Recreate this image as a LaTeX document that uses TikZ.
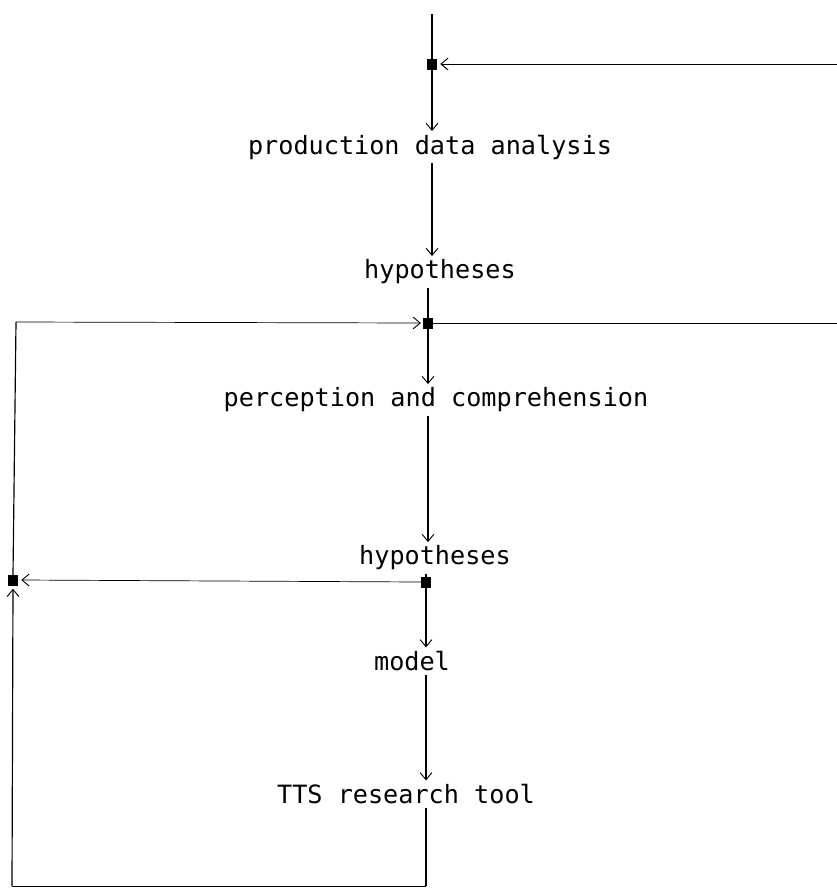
\documentclass[tikz,border=0pt]{standalone}
\usepackage{fontspec}
\setmonofont{DejaVu Sans Mono}
\usetikzlibrary{arrows.meta}
\tikzset{
  label/.style={font=\ttfamily\fontsize{21.5}{24}\selectfont, inner sep=3pt, anchor=center},
  junction/.style={draw=black, fill=black, rectangle, minimum width=0.27cm, minimum height=0.3cm, inner sep=0pt},
  main/.style={line width=1pt},
  thin/.style={line width=0.6pt},
  tip/.style={-{Straight Barb[length=6pt,width=10pt,line width=0.8pt]}},
}
\begin{document}
\begin{tikzpicture}[x=0.03cm, y=-0.03cm]
\useasboundingbox (0,0) rectangle (837,888);

% text nodes
\node[label] (pda) at (430,147) {production data analysis};
\node[label] (hy1) at (440,272) {hypotheses};
\node[label] (pc)  at (436,400) {perception and comprehension};
\node[label] (hy2) at (435,558) {hypotheses};
\node[label] (mod) at (412,661) {model};
\node[label] (tts) at (406,794) {TTS research tool};

% junctions
\node[junction] (j1) at (432,64) {};
\node[junction] (j2) at (428,323) {};
\node[junction] (j3) at (426,582) {};
\node[junction] (j4) at (13,580) {};

% free ends and corners
\coordinate (top) at (432,14);
\coordinate (rin) at (837,64);
\coordinate (rout) at (837,323);
\coordinate (lc) at (16,322);
\coordinate (bc) at (12,886);
\coordinate (bm) at (426,886);

% main spine
\draw[main] (top) -- (j1.north);
\draw[main,tip] (j1.south) -- (j1 |- pda.north);
\draw[main,tip] (pda.south -| j1) -- (j1 |- hy1.north);
\draw[main] (hy1.south -| j2) -- (j2.north);
\draw[main,tip] (j2.south) -- (j2 |- pc.north);
\draw[main,tip] (pc.south -| j2) -- (j2 |- hy2.north);
\draw[main] (hy2.south -| j3) -- (j3.north);
\draw[main,tip] (j3.south) -- (j3 |- mod.north);
\draw[main,tip] (mod.south -| j3) -- (j3 |- tts.north);

% feedback loops
\draw[thin,tip] (rin) -- ([xshift=3pt]j1.east);
\draw[thin] (j2.east) -- (rout);
\draw[thin,tip] (j3.west) -- ([xshift=3pt]j4.east);
\draw[main] (j4.north) -- (lc);
\draw[thin,tip] (lc) -- ([xshift=-2pt]j2.west);
\draw[main] (tts.south -| j3) -- (bm);
\draw[thin] (bm) -- (bc);
\draw[main,tip] (bc) -- ([yshift=-3pt]j4.south);
\end{tikzpicture}
\end{document}
